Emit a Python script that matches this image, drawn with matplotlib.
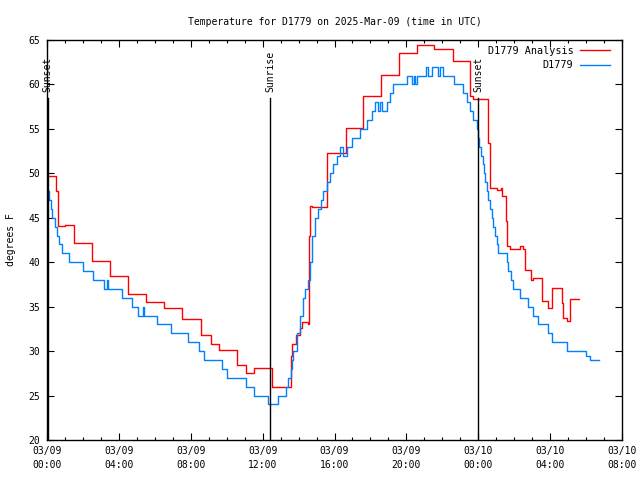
import matplotlib
matplotlib.use("Agg")
import matplotlib.pyplot as plt
from matplotlib.ticker import MultipleLocator

# hours since 03/09 00:00 UTC
obs_t = [0.0, 0.1, 0.2, 0.3, 0.45, 0.55, 0.65, 0.82, 1.24, 1.99, 2.54, 3.19, 3.34, 3.4,
         4.16, 4.71, 5.08, 5.33, 5.38, 6.14, 6.88, 7.83, 8.48, 8.74, 9.72, 10.0, 11.07,
         11.52, 12.31, 12.87, 13.3, 13.43, 13.56, 13.64, 13.71, 13.89, 14.08, 14.23,
         14.36, 14.51, 14.64, 14.76, 14.91, 15.1, 15.23, 15.37, 15.56, 15.75, 15.93,
         16.12, 16.3, 16.49, 16.68, 16.96, 17.42, 17.79, 18.07, 18.25, 18.42, 18.53,
         18.64, 18.9, 19.09, 19.27, 20.02, 20.3, 20.42, 20.48, 20.57, 21.09, 21.2,
         21.41, 21.76, 21.87, 22.05, 22.65, 23.17, 23.35, 23.54, 23.72, 23.91, 24.0,
         24.06, 24.15, 24.24, 24.32, 24.4, 24.48, 24.56, 24.65, 24.75, 24.84, 24.93,
         25.02, 25.11, 25.58, 25.67, 25.8, 25.94, 26.32, 26.78, 27.06, 27.31, 27.9,
         28.09, 28.92, 29.75, 29.98, 30.22, 30.74]
obs_v = [48, 47, 46, 45, 44, 43, 42, 41, 40, 39, 38, 37, 38, 37,
         36, 35, 34, 35, 34, 33, 32, 31, 30, 29, 28, 27, 26,
         25, 24, 25, 26, 27, 28, 29, 30, 32, 34, 36,
         37, 38, 40, 43, 45, 46, 47, 48, 49, 50, 51,
         52, 53, 52, 53, 54, 55, 56, 57, 58, 57, 58,
         57, 58, 59, 60, 61, 60, 61, 60, 61, 62, 61,
         62, 61, 62, 61, 60, 59, 58, 57, 56, 55, 54,
         53, 52, 51, 50, 49, 48, 47, 46, 45, 44, 43,
         42, 41, 40, 39, 38, 37, 36, 35, 34, 33, 32,
         31, 30, 30, 29.5, 29, 29]

ana_t = [0.0, 0.5, 0.6, 1.0, 1.52, 2.52, 3.52, 4.52, 5.53, 6.53, 7.53, 8.55, 9.11, 9.57,
         10.56, 11.09, 11.54, 12.54, 13.56, 13.63, 13.86, 14.08, 14.19, 14.54, 14.6,
         14.64, 14.76, 15.56, 16.62, 17.6, 18.59, 19.6, 20.57, 21.55, 22.58, 23.54,
         23.72, 24.52, 24.65, 25.04, 25.26, 25.33, 25.54, 25.62, 25.76, 26.35, 26.5,
         26.6, 26.92, 27.04, 27.55, 27.9, 28.1, 28.64, 28.74, 28.95, 29.08, 29.6]
ana_v = [49.7, 48.0, 44.1, 44.2, 42.2, 40.1, 38.4, 36.4, 35.5, 34.8, 33.6, 31.8, 30.8, 30.1,
         28.4, 27.5, 28.1, 26.0, 29.5, 30.8, 31.8, 32.6, 33.3, 33.1, 43.0,
         46.3, 46.2, 52.25, 55.1, 58.7, 61.1, 63.5, 64.4, 64.0, 62.6, 58.7,
         58.4, 53.4, 48.4, 48.1, 48.3, 47.4, 44.6, 41.8, 41.45, 41.8, 41.45,
         39.1, 38.0, 38.2, 35.6, 34.8, 37.1, 35.4, 33.7, 33.4, 35.9, 35.9]

sun_t = [0.03, 12.41, 24.0]
sun_lbl = ["Sunset", "Sunrise", "Sunset"]

xtick_pos = [0, 4, 8, 12, 16, 20, 24, 28, 32]
xtick_lbl = ["03/09\n00:00", "03/09\n04:00", "03/09\n08:00", "03/09\n12:00",
             "03/09\n16:00", "03/09\n20:00", "03/10\n00:00", "03/10\n04:00",
             "03/10\n08:00"]

plt.rcParams['font.family'] = ['DejaVu Sans Mono']
plt.rcParams['font.size'] = 7

fig = plt.figure(figsize=(6.4, 4.8), dpi=100)
ax = fig.add_axes([47/640, 40/480, 575/640, 400/480])

ax.plot(ana_t, ana_v, drawstyle='steps-post', color='#ff0000', lw=1.0, label='D1779 Analysis')
ax.plot(obs_t, obs_v, drawstyle='steps-post', color='#0080ff', lw=1.0, label='D1779')

for t, lbl in zip(sun_t, sun_lbl):
    ax.plot([t, t], [20, 58.5], color='black', lw=1.0)
    ax.text(t, 59.2, lbl, rotation=90, ha='center', va='bottom')

ax.set_xlim(0, 32)
ax.set_ylim(20, 65)
ax.set_xticks(xtick_pos)
ax.set_xticklabels(xtick_lbl, linespacing=1.6)
ax.xaxis.set_minor_locator(MultipleLocator(1))
ax.yaxis.set_major_locator(MultipleLocator(5))
ax.tick_params(which='both', direction='in', top=True, right=True, width=0.8)
ax.tick_params(which='major', length=5, pad=5)
ax.tick_params(axis='x', which='major', pad=4)
ax.tick_params(which='minor', length=2.5)
for s in ax.spines.values():
    s.set_linewidth(1.0)

ax.set_ylabel("degrees F", labelpad=9)
ax.set_title("Temperature for D1779 on 2025-Mar-09 (time in UTC)", fontsize=7, pad=11)

ax.legend(loc='upper right', bbox_to_anchor=(0.979, 0.985), frameon=False,
          markerfirst=False, handlelength=3.0, labelspacing=0.4, borderaxespad=0,
          borderpad=0, handletextpad=0.6, fontsize=7.3)

fig.savefig("out.png", dpi=100)
